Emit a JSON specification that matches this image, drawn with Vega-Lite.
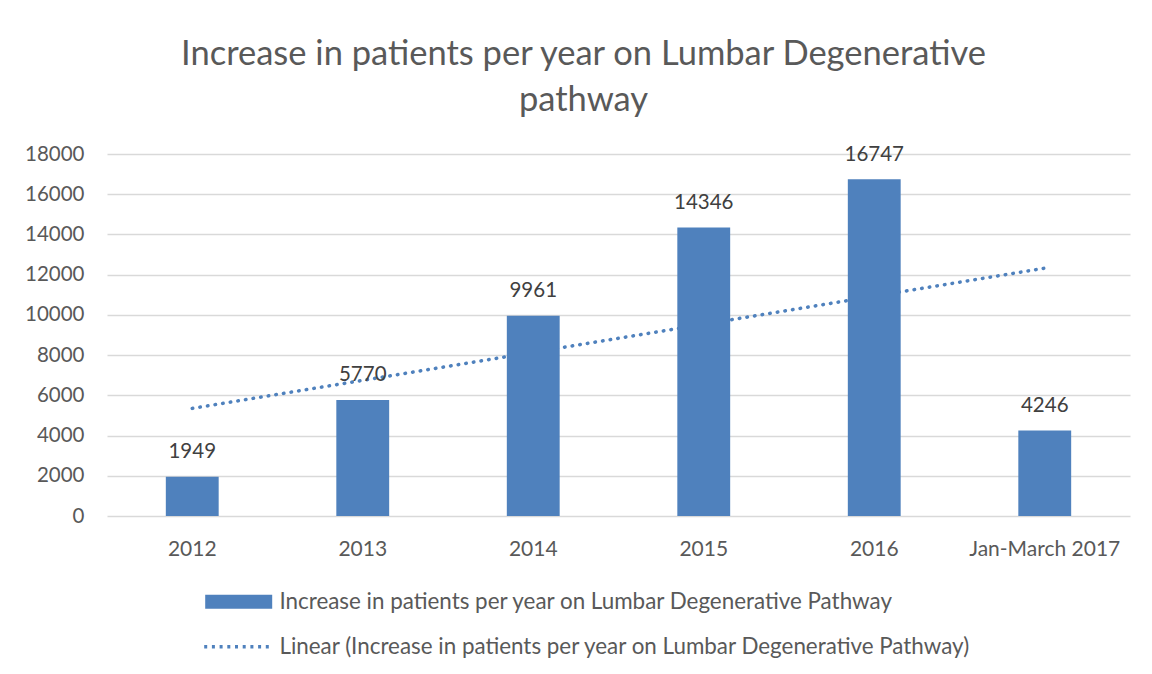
{
  "$schema": "https://vega.github.io/schema/vega-lite/v6.json",
  "width": 1023,
  "height": 362,
  "autosize": {"type": "none"},
  "padding": {"left": 107, "top": 154, "right": 22, "bottom": 158},
  "background": "white",
  "config": {
    "font": "Lato",
    "view": {"stroke": null},
    "axis": {"labelColor": "#595959", "labelFont": "Lato", "gridColor": "#D9D9D9", "gridWidth": 1.3, "domain": false, "ticks": false, "title": null},
    "legend": {"title": null, "orient": "none", "direction": "vertical", "padding": 0, "labelFont": "Lato", "labelFontSize": 22.4, "labelColor": "#595959", "labelLimit": 1000, "labelOffset": 29.5, "symbolSize": 100, "symbolOpacity": 1}
  },
  "title": {
    "text": ["Increase in patients per year on Lumbar Degenerative", "pathway"],
    "font": "Lato",
    "fontSize": 34.5,
    "fontWeight": "normal",
    "color": "#595959",
    "lineHeight": 46,
    "offset": 26,
    "anchor": "middle",
    "dx": -35
  },
  "data": {
    "values": [
      {"period": "2012", "patients": 1949, "trend": 5351},
      {"period": "2013", "patients": 5770, "trend": 6745},
      {"period": "2014", "patients": 9961, "trend": 8139},
      {"period": "2015", "patients": 14346, "trend": 9534},
      {"period": "2016", "patients": 16747, "trend": 10928},
      {"period": "Jan-March 2017", "patients": 4246, "trend": 12322}
    ]
  },
  "encoding": {
    "x": {
      "field": "period",
      "type": "nominal",
      "sort": null,
      "scale": {"paddingInner": 0.69, "paddingOuter": 0.345},
      "axis": {"labelAngle": 0, "labelFontSize": 21, "labelPadding": 22, "grid": false}
    }
  },
  "layer": [
    {
      "mark": {"type": "line", "strokeDash": [0.5, 7.2], "strokeWidth": 3.5, "strokeCap": "round"},
      "encoding": {
        "y": {"field": "trend", "type": "quantitative", "scale": {"domain": [0, 18000]}, "axis": {"values": [0, 2000, 4000, 6000, 8000, 10000, 12000, 14000, 16000, 18000], "format": "d", "labelFontSize": 20.5, "labelPadding": 23, "grid": true}},
        "stroke": {
          "datum": "Linear (Increase in patients per year on Lumbar Degenerative Pathway)",
          "type": "nominal",
          "scale": {"domain": ["Linear (Increase in patients per year on Lumbar Degenerative Pathway)"], "range": ["#4F81BD"]},
          "legend": {
            "legendX": 120.5,
            "legendY": 481.5,
            "symbolType": "M-6.9,0H6.9",
            "symbolDash": [3, 4.7],
            "symbolStrokeWidth": 3.5,
            "symbolStrokeColor": "#4F81BD"
          }
        }
      }
    },
    {
      "mark": {"type": "bar"},
      "encoding": {
        "y": {"field": "patients", "type": "quantitative"},
        "fill": {
          "datum": "Increase in patients per year on Lumbar Degenerative Pathway",
          "type": "nominal",
          "scale": {"domain": ["Increase in patients per year on Lumbar Degenerative Pathway"], "range": ["#4F81BD"]},
          "legend": {
            "legendX": 120.5,
            "legendY": 436.5,
            "symbolType": "M-6.7,-1.4H6.7V1.4H-6.7Z",
            "symbolFillColor": "#4F81BD",
            "symbolStrokeWidth": 0
          }
        }
      }
    },
    {
      "mark": {"type": "text", "baseline": "alphabetic", "dy": -18.5, "fontSize": 20.5, "color": "#404040", "font": "Lato"},
      "encoding": {
        "y": {"field": "patients", "type": "quantitative"},
        "text": {"field": "patients", "type": "quantitative", "format": "d"}
      }
    }
  ]
}
